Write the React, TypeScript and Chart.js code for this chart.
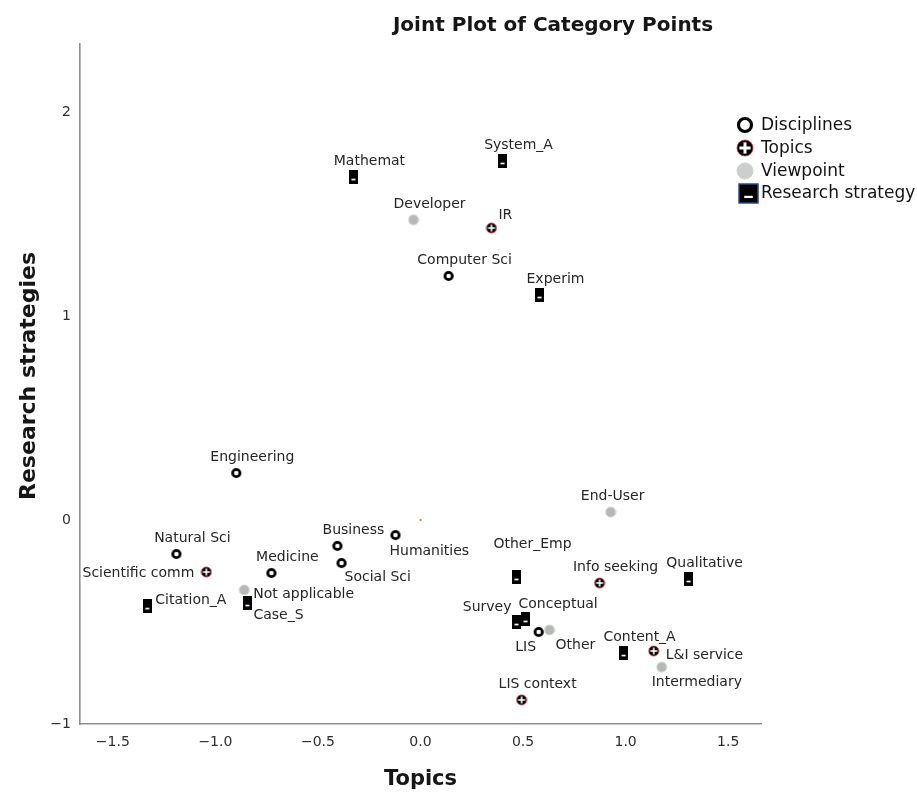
import React, { useEffect, useRef } from "react";
import { Chart, registerables } from "chart.js";

Chart.register(...registerables);

// ---- Data ----
const disciplineNames = ["Computer Sci", "Engineering", "Natural Sci", "Medicine", "Business", "Social Sci", "Humanities", "LIS"];
const disciplineX = [0.137, -0.898, -1.19, -0.727, -0.405, -0.385, -0.122, 0.576];
const disciplineY = [1.196, 0.23, -0.167, -0.26, -0.127, -0.211, -0.074, -0.549];

const topicNames = ["IR", "Scientific comm", "Info seeking", "L&I service", "LIS context"];
const topicX = [0.346, -1.044, 0.873, 1.137, 0.493];
const topicY = [1.431, -0.255, -0.309, -0.642, -0.882];

const viewpointNames = ["Developer", "End-User", "Not applicable", "Other", "Intermediary"];
const viewpointX = [-0.034, 0.927, -0.859, 0.629, 1.176];
const viewpointY = [1.471, 0.039, -0.343, -0.539, -0.721];

const strategyNames = ["Mathemat", "System_A", "Experim", "Other_Emp", "Qualitative", "Survey", "Conceptual", "Content_A", "Case_S", "Citation_A"];
const strategyX = [-0.327, 0.4, 0.58, 0.468, 1.307, 0.468, 0.512, 0.99, -0.844, -1.332];
const strategyY = [1.681, 1.76, 1.103, -0.279, -0.289, -0.5, -0.485, -0.652, -0.407, -0.422];

const legendLabels = ["Disciplines", "Topics", "Viewpoint", "Research strategy"];
const xTicks = [-1.5, -1.0, -0.5, 0.0, 0.5, 1.0, 1.5];
const yTicks = [-1, 0, 1, 2];
const xRange = [-1.66, 1.66];
const yRange = [-1, 2.333];

const chartTitle = "Joint Plot of Category Points";
const xTitle = "Topics";
const yTitle = "Research strategies";

// label placement: [dx, dy, align]
const defaultPlacement: [number, number, CanvasTextAlign] = [16, -16, "center"];
const labelPlacement: Record<string, [number, number, CanvasTextAlign]> = {
  "Scientific comm": [-12, 1, "right"],
  "Social Sci": [3, 14, "left"],
  "Humanities": [-6, 16, "left"],
  "Not applicable": [9, 4, "left"],
  "Case_S": [6, 12, "left"],
  "Citation_A": [8, -6, "left"],
  "End-User": [2, -16, "center"],
  "Other_Emp": [16, -33, "center"],
  "Survey": [-5, -15, "right"],
  "Conceptual": [-7, -15, "left"],
  "LIS": [-13, 15, "center"],
  "Other": [6, 15, "left"],
  "L&I service": [12, 4, "left"],
  "Intermediary": [-10, 15, "left"],
  "IR": [7, -13, "left"],
};

const FONT = "'DejaVu Sans', sans-serif";

function makeCanvas(w: number, h: number, draw: (c: CanvasRenderingContext2D) => void) {
  const cv = document.createElement("canvas");
  cv.width = w;
  cv.height = h;
  const c = cv.getContext("2d")!;
  draw(c);
  return cv;
}

function drawRing(c: CanvasRenderingContext2D, x: number, y: number, r: number, lw: number) {
  c.beginPath();
  c.arc(x, y, r, 0, Math.PI * 2);
  c.fillStyle = "#fff";
  c.fill();
  c.lineWidth = lw;
  c.strokeStyle = "#000";
  c.stroke();
}
function drawTopic(c: CanvasRenderingContext2D, x: number, y: number, r: number, t: number) {
  c.beginPath();
  c.arc(x, y, r, 0, Math.PI * 2);
  c.fillStyle = "#000";
  c.fill();
  c.lineWidth = 0.8;
  c.strokeStyle = "#c03048";
  c.stroke();
  c.fillStyle = "#fff";
  const a = r * 0.7;
  c.fillRect(x - t / 2, y - a, t, 2 * a);
  c.fillRect(x - a, y - t / 2, 2 * a, t);
}
function drawView(c: CanvasRenderingContext2D, x: number, y: number, r: number, fill: string) {
  c.beginPath();
  c.arc(x, y, r, 0, Math.PI * 2);
  c.fillStyle = fill;
  c.fill();
  c.lineWidth = 1;
  c.strokeStyle = "#c6d8c6";
  c.stroke();
}
function drawStrategy(c: CanvasRenderingContext2D, x: number, y: number, w: number, h: number, border?: string) {
  c.fillStyle = "#000";
  c.fillRect(x, y, w, h);
  if (border) {
    c.lineWidth = 1.5;
    c.strokeStyle = border;
    c.strokeRect(x, y, w, h);
  }
  c.fillStyle = "#fff";
  const mw = w * 0.45;
  c.fillRect(x + (w - mw) / 2, y + h * 0.62, mw, Math.max(1.5, h * 0.12));
}

export default function App() {
  const ref = useRef<HTMLCanvasElement | null>(null);

  useEffect(() => {
    document.body.style.margin = "0";
    const ringImg = makeCanvas(12, 12, (c) => drawRing(c, 6, 6, 3.7, 2.8));
    const topicImg = makeCanvas(12, 12, (c) => drawTopic(c, 6, 6, 5, 1.6));
    const viewImg = makeCanvas(12, 12, (c) => drawView(c, 6, 6, 5, "#b7b7b7"));
    const stratImg = makeCanvas(9, 14, (c) => drawStrategy(c, 0, 0, 9, 14));

    const mk = (xs: number[], ys: number[], names: string[]) =>
      xs.map((x, i) => ({ x, y: ys[i], name: names[i] }));

    const labelPlugin = {
      id: "labels",
      afterDatasetsDraw(chart: any) {
        const ctx = chart.ctx;
        ctx.save();
        ctx.font = `14px ${FONT}`;
        ctx.fillStyle = "#262626";
        ctx.textBaseline = "middle";
        chart.data.datasets.forEach((ds: any, di: number) => {
          const meta = chart.getDatasetMeta(di);
          ds.data.forEach((d: any, i: number) => {
            if (!d.name) return;
            const el = meta.data[i];
            const [dx, dy, al] = labelPlacement[d.name] || defaultPlacement;
            ctx.textAlign = al;
            ctx.fillText(d.name, el.x + dx, el.y + dy);
          });
        });
        ctx.restore();
      },
      afterDraw(chart: any) {
        const ctx = chart.ctx;
        const area = chart.chartArea;
        ctx.save();
        // title
        ctx.fillStyle = "#161616";
        ctx.font = `bold 20px ${FONT}`;
        ctx.textAlign = "center";
        ctx.textBaseline = "middle";
        ctx.fillText(chartTitle, 553, 26);
        // x title
        ctx.font = `bold 21px ${FONT}`;
        ctx.fillText(xTitle, (area.left + area.right) / 2, 780);
        // y title
        ctx.save();
        ctx.translate(29, (area.top + area.bottom) / 2 - 8);
        ctx.rotate(-Math.PI / 2);
        ctx.font = `bold 22px ${FONT}`;
        ctx.fillText(yTitle, 0, 0);
        ctx.restore();
        // legend
        const lx = 745;
        const rows = [125, 148, 171, 193];
        drawRing(ctx, lx, rows[0], 6.5, 3.2);
        drawTopic(ctx, lx, rows[1], 8, 3);
        drawView(ctx, lx, rows[2], 8, "#cdcdcd");
        drawStrategy(ctx, lx - 6, rows[3] - 9, 19, 19, "#2a4a8c");
        ctx.font = `17px ${FONT}`;
        ctx.fillStyle = "#141414";
        ctx.textAlign = "left";
        legendLabels.forEach((t, i) => ctx.fillText(t, 761, rows[i] + 1));
        ctx.restore();
      },
    };

    const chart = new Chart(ref.current!, {
      type: "scatter",
      data: {
        datasets: [
          { label: legendLabels[0], data: mk(disciplineX, disciplineY, disciplineNames), pointStyle: ringImg as any },
          { label: legendLabels[1], data: mk(topicX, topicY, topicNames), pointStyle: topicImg as any },
          { label: legendLabels[2], data: mk(viewpointX, viewpointY, viewpointNames), pointStyle: viewImg as any },
          { label: legendLabels[3], data: mk(strategyX, strategyY, strategyNames), pointStyle: stratImg as any },
          { label: "origin", data: [{ x: 0, y: 0 }], pointRadius: 1.2, backgroundColor: "#e0805f", borderWidth: 0 } as any,
        ],
      },
      options: {
        animation: false,
        responsive: true,
        maintainAspectRatio: false,
        layout: { padding: { top: 44, right: 156, bottom: 0, left: 0 } },
        plugins: { legend: { display: false }, title: { display: false }, tooltip: { enabled: false } },
        scales: {
          x: {
            type: "linear",
            min: xRange[0],
            max: xRange[1],
            grid: { display: false, drawTicks: false },
            border: { display: true, color: "#8e8e8e", width: 1.6 },
            afterBuildTicks: (s: any) => { s.ticks = xTicks.map((v) => ({ value: v })); },
            afterFit: (s: any) => { s.height = 68; },
            ticks: {
              padding: 10,
              color: "#2e2e2e",
              font: { family: FONT, size: 14 },
              maxRotation: 0,
              callback: (v: any) => (Number(v) < 0 ? "\u2212" + Math.abs(Number(v)).toFixed(1) : Number(v).toFixed(1)),
            },
          },
          y: {
            type: "linear",
            min: yRange[0],
            max: yRange[1],
            grid: { display: false, drawTicks: false },
            border: { display: true, color: "#8e8e8e", width: 1.6 },
            afterBuildTicks: (s: any) => { s.ticks = yTicks.map((v) => ({ value: v })); },
            afterFit: (s: any) => { s.width = 80; },
            ticks: {
              padding: 9,
              color: "#2e2e2e",
              font: { family: FONT, size: 14 },
              callback: (v: any) => (Number(v) < 0 ? "\u2212" + Math.abs(Number(v)) : String(v)),
            },
          },
        },
      },
      plugins: [labelPlugin],
    });
    return () => chart.destroy();
  }, []);

  return (
    <div style={{ position: "absolute", left: 0, top: 0, width: 917, height: 792, background: "#fff" }}>
      <canvas ref={ref} />
    </div>
  );
}
